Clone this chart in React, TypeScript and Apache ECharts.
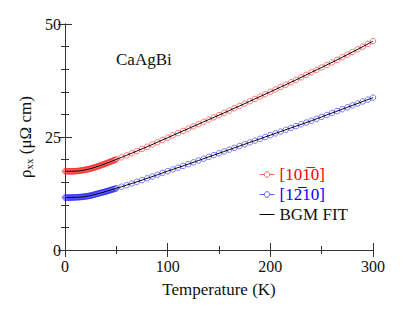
import React, { useEffect, useRef } from "react";
import * as echarts from "echarts";

const lowT = [0, 1, 2, 3, 4, 5, 6, 7, 8, 9, 10, 11, 12, 13, 14, 15, 16, 17, 18, 19, 20, 21, 22, 23, 24, 25, 26, 27, 28, 29, 30, 31, 32, 33, 34, 35, 36, 37, 38, 39, 40, 41, 42, 43, 44, 45, 46, 47, 48, 49, 50];
const highT = [55, 60, 65, 70, 75, 80, 85, 90, 95, 100, 105, 110, 115, 120, 125, 130, 135, 140, 145, 150, 155, 160, 165, 170, 175, 180, 185, 190, 195, 200, 205, 210, 215, 220, 225, 230, 235, 240, 245, 250, 255, 260, 265, 270, 275, 280, 285, 290, 295, 300];

const redLow = [17.4, 17.4, 17.4, 17.4, 17.4, 17.4, 17.41, 17.41, 17.42, 17.43, 17.45, 17.46, 17.48, 17.5, 17.53, 17.56, 17.6, 17.63, 17.67, 17.71, 17.75, 17.8, 17.85, 17.9, 17.95, 18.01, 18.08, 18.14, 18.21, 18.28, 18.35, 18.42, 18.5, 18.58, 18.66, 18.74, 18.82, 18.9, 18.98, 19.06, 19.15, 19.24, 19.33, 19.42, 19.51, 19.6, 19.69, 19.78, 19.87, 19.96, 20.05];
const redHigh = [20.5, 20.95, 21.42, 21.9, 22.37, 22.85, 23.35, 23.85, 24.35, 24.85, 25.35, 25.85, 26.35, 26.85, 27.35, 27.85, 28.35, 28.85, 29.35, 29.85, 30.35, 30.85, 31.36, 31.87, 32.38, 32.9, 33.42, 33.95, 34.47, 35.0, 35.52, 36.05, 36.57, 37.1, 37.65, 38.2, 38.75, 39.3, 39.85, 40.4, 40.95, 41.5, 42.07, 42.65, 43.22, 43.8, 44.4, 45.0, 45.6, 46.2];

const blueLow = [11.6, 11.6, 11.6, 11.6, 11.6, 11.6, 11.61, 11.61, 11.62, 11.63, 11.65, 11.66, 11.67, 11.68, 11.7, 11.72, 11.74, 11.76, 11.79, 11.82, 11.85, 11.88, 11.92, 11.96, 12.0, 12.05, 12.1, 12.16, 12.22, 12.28, 12.35, 12.41, 12.47, 12.53, 12.59, 12.65, 12.71, 12.77, 12.83, 12.89, 12.95, 13.02, 13.09, 13.16, 13.23, 13.3, 13.37, 13.44, 13.51, 13.58, 13.65];
const blueHigh = [14.0, 14.35, 14.72, 15.1, 15.47, 15.85, 16.25, 16.65, 17.05, 17.45, 17.83, 18.22, 18.61, 19.0, 19.4, 19.8, 20.2, 20.6, 21.0, 21.4, 21.8, 22.2, 22.6, 23.0, 23.4, 23.8, 24.2, 24.6, 25.0, 25.4, 25.8, 26.2, 26.6, 27.0, 27.4, 27.8, 28.2, 28.6, 29.02, 29.45, 29.87, 30.3, 30.72, 31.15, 31.57, 32.0, 32.42, 32.85, 33.27, 33.7];

const fitT = [0, 10, 20, 30, 40, 50, 60, 80, 100, 120, 140, 160, 180, 200, 220, 240, 260, 280, 300];
const redFit = [17.4, 17.45, 17.75, 18.35, 19.15, 20.05, 20.95, 22.85, 24.85, 26.85, 28.85, 30.85, 32.9, 35.0, 37.1, 39.3, 41.5, 43.8, 46.2];
const blueFit = [11.6, 11.65, 11.85, 12.35, 12.95, 13.65, 14.35, 15.85, 17.45, 19.0, 20.6, 22.2, 23.8, 25.4, 27.0, 28.6, 30.3, 32.0, 33.7];

const xTicks = { min: 0, max: 300, interval: 100 };
const yTicks = { min: 0, max: 50, interval: 25 };

const nameRed = "[10" + "1\u0305" + "0]";
const nameBlue = "[1" + "2\u0305" + "10]";
const nameFit = "BGM FIT";
const title = "CaAgBi";

const FONT = "'Liberation Serif', 'Times New Roman', serif";

function pairs(xs: number[], ys: number[]) {
  return xs.map((x, i) => [x, ys[i]]);
}

export default function App() {
  const ref = useRef<HTMLDivElement>(null);
  useEffect(() => {
    document.body.style.margin = "0";
    if (!ref.current) return;
    const chart = echarts.init(ref.current, null, { renderer: "svg" });
    const axisLine = { show: true, lineStyle: { color: "#333", width: 1 } };
    const baseX = {
      type: "value",
      ...xTicks,
      axisLine,
      axisTick: { show: true, inside: true, length: 7, lineStyle: { color: "#333" } },
      minorTick: { show: true, splitNumber: 2, length: 4, lineStyle: { color: "#333" } },
      splitLine: { show: false },
      minorSplitLine: { show: false },
    };
    const baseY = {
      type: "value",
      ...yTicks,
      axisLine,
      axisTick: { show: true, inside: true, length: 7, lineStyle: { color: "#333" } },
      minorTick: { show: true, splitNumber: 5, length: 4, lineStyle: { color: "#333" } },
      splitLine: { show: false },
      minorSplitLine: { show: false },
    };
    const dataSeries = (name: string, data: number[][], color: string) => ({
      name,
      type: "line",
      data,
      symbol: "circle",
      symbolSize: 5.5,
      showSymbol: true,
      showAllSymbol: true,
      lineStyle: { width: 0, opacity: 0, color },
      itemStyle: { color: "rgba(0,0,0,0)", borderColor: color, borderWidth: 1 },
      emphasis: { disabled: true },
      z: 2,
    });
    const fitSeries = (data: number[][]) => ({
      name: nameFit,
      type: "line",
      data,
      smooth: true,
      symbol: "none",
      showSymbol: false,
      lineStyle: { width: 1, color: "#000" },
      itemStyle: { color: "#000" },
      emphasis: { disabled: true },
      z: 3,
    });
    chart.setOption({
      animation: false,
      grid: { left: 65, right: 42, top: 24, bottom: 60 },
      xAxis: [
        {
          ...baseX,
          position: "bottom",
          name: "Temperature (K)",
          nameLocation: "middle",
          nameGap: 31,
          nameTextStyle: { fontFamily: FONT, fontSize: 17, color: "#111" },
          axisLabel: { show: true, fontFamily: FONT, fontSize: 16, color: "#111", margin: 8 },
        },
        { ...baseX, position: "top", axisLabel: { show: false } },
      ],
      yAxis: [
        {
          ...baseY,
          position: "left",
          name: "{a|ρ}{b|xx}{a| (μΩ cm)}",
          nameLocation: "middle",
          nameGap: 30,
          nameTextStyle: {
            fontFamily: FONT,
            color: "#111",
            rich: {
              a: { fontFamily: FONT, fontSize: 17, color: "#111", lineHeight: 18 },
              b: { fontFamily: FONT, fontSize: 11, color: "#111", lineHeight: 10, padding: [6, 0, 0, 0], verticalAlign: "bottom" },
            },
          },
          axisLabel: { show: true, fontFamily: FONT, fontSize: 16, color: "#111", margin: 4 },
        },
        { ...baseY, position: "right", axisLabel: { show: false } },
      ],
      legend: {
        left: 254,
        top: 161,
        orient: "vertical",
        itemWidth: 15,
        itemHeight: 7,
        itemGap: 3,
        selectedMode: false,
        textStyle: { fontFamily: FONT, fontSize: 17, color: "#111" },
        data: [
          {
            name: nameRed,
            textStyle: { color: "#ff0000" },
            lineStyle: { width: 1, opacity: 1, color: "#ff6060" },
            itemStyle: { color: "#fff", borderColor: "#ff6060", borderWidth: 1 },
          },
          {
            name: nameBlue,
            textStyle: { color: "#0000ff" },
            lineStyle: { width: 1, opacity: 1, color: "#6060ff" },
            itemStyle: { color: "#fff", borderColor: "#6060ff", borderWidth: 1 },
          },
          {
            name: nameFit,
            textStyle: { color: "#111" },
            lineStyle: { width: 1, opacity: 1, color: "#000" },
            itemStyle: { opacity: 0 },
          },
        ],
      },
      graphic: [
        {
          type: "text",
          left: 116,
          top: 51,
          style: { text: title, fontFamily: FONT, fontSize: 17, fill: "#111" },
        },
      ],
      series: [
        dataSeries(nameRed, pairs(lowT.concat(highT), redLow.concat(redHigh)), "rgba(255,30,30,0.6)"),
        dataSeries(nameBlue, pairs(lowT.concat(highT), blueLow.concat(blueHigh)), "rgba(30,30,255,0.6)"),
        fitSeries(pairs(fitT, redFit)),
        fitSeries(pairs(fitT, blueFit)),
      ],
    });
    return () => chart.dispose();
  }, []);
  return <div ref={ref} style={{ width: 415, height: 310 }} />;
}
